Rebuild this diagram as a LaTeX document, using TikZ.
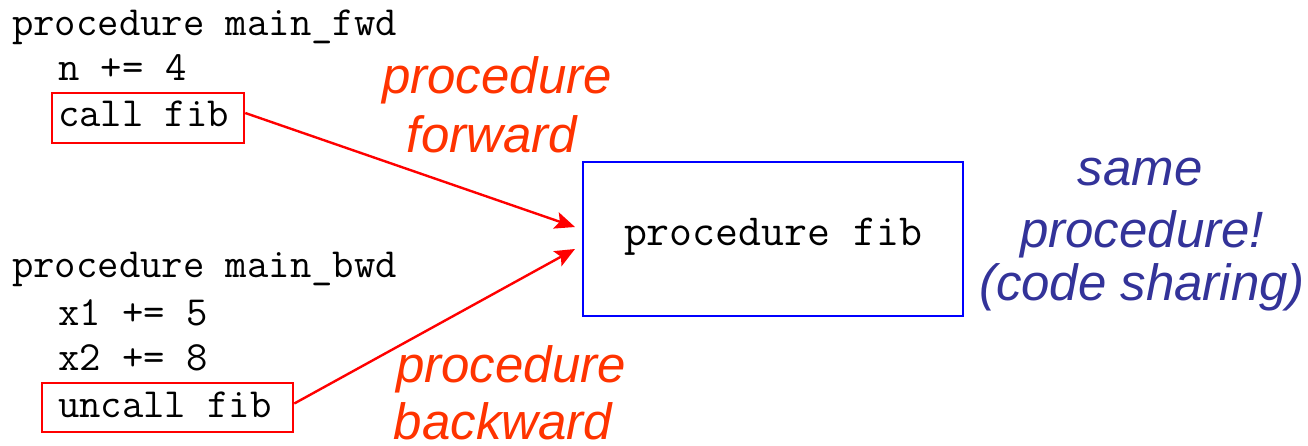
\documentclass[tikz,border=0pt]{standalone}
\usepackage{fontspec}
\newfontfamily\arialfont{Liberation Sans}
\usetikzlibrary{arrows.meta}
\definecolor{arrowred}{HTML}{FF0000}
\definecolor{labelred}{HTML}{FF3300}
\definecolor{boxblue}{HTML}{0000FF}
\definecolor{noteblue}{HTML}{333399}
\tikzset{
  code/.style={inner sep=0pt, anchor=base west, font=\ttfamily\fontsize{41.5}{49}\selectfont},
  codebox/.style={draw=arrowred, line width=2.6pt, font=\ttfamily\fontsize{41.5}{49}\selectfont, inner ysep=0pt},
  fibbox/.style={draw=boxblue, line width=2.8pt, font=\ttfamily\fontsize{44.5}{52}\selectfont,
    text height=26pt, text depth=14pt, minimum width=380pt, minimum height=154pt, inner sep=0pt},
  redlabel/.style={inner sep=0pt, anchor=base, text=labelred, font=\arialfont\itshape\fontsize{51}{60}\selectfont},
  bluelabel/.style={inner sep=0pt, anchor=base, text=noteblue, font=\arialfont\itshape\fontsize{51}{60}\selectfont},
  callarrow/.style={draw=arrowred, line width=2.4pt, -{Stealth[length=20pt,width=17pt,inset=4pt]}}
}
\begin{document}
\begin{tikzpicture}[x=1pt,y=-1pt]
\useasboundingbox (0,0) rectangle (1308,445);
% forward main
\node[code] (fwdhead) at (12,35) {procedure main\_fwd};
\node[code] (fwdn) at (58,80) {n += 4};
\node[codebox, text height=28pt, text depth=12pt, inner xsep=0pt, minimum width=192pt, minimum height=50pt] (callfib) at (148,118) {\makebox[180pt][l]{call fib}};
% backward main
\node[code] (bwdhead) at (12,277) {procedure main\_bwd};
\node[code] (bwdx1) at (58,325) {x1 += 5};
\node[code] (bwdx2) at (58,370) {x2 += 8};
\node[codebox, text height=29pt, text depth=10pt, inner xsep=0pt, minimum width=251pt, minimum height=49pt] (uncall) at (167.5,407.5) {\makebox[219pt][l]{uncall fib}};
% shared procedure
\node[fibbox] (fib) at (773,239) {procedure fib};
\coordinate (tipf) at (575,227);
\coordinate (tipb) at (575,249);
\draw[callarrow] ([yshift=5pt]callfib.east) -- (tipf);
\draw[callarrow] ([yshift=4pt]uncall.east) -- (tipb);
% labels
\node[redlabel] (fwd1) at (497,93) {procedure};
\node[redlabel] (fwd2) at (492,152) {forward};
\node[redlabel] (bwd1) at (511,382) {procedure};
\node[redlabel] (bwd2) at (503,439) {backward};
\node[bluelabel] (same1) at (1140,185) {same};
\node[bluelabel] (same2) at (1142,247) {procedure!};
\node[bluelabel] (same3) at (1142,300) {(code sharing)};
\end{tikzpicture}
\end{document}
